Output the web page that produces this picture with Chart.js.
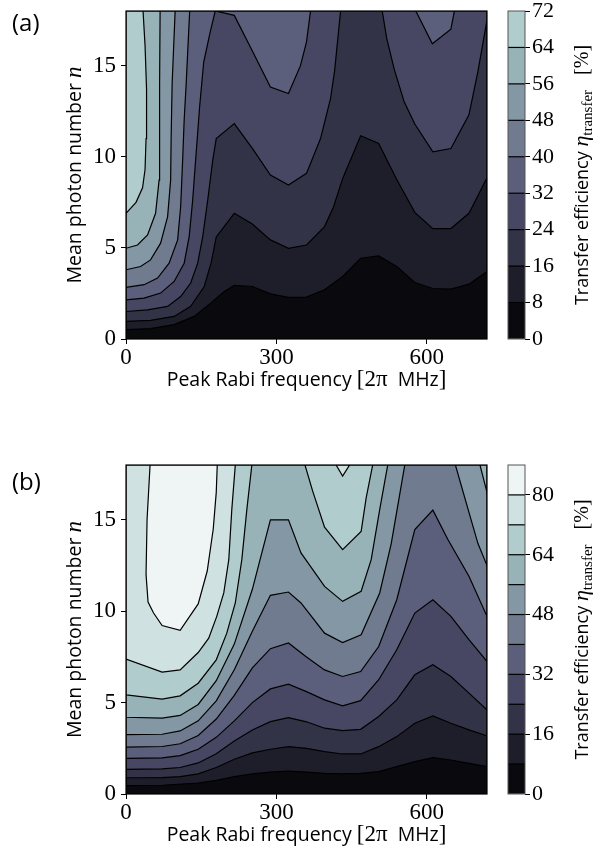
<!DOCTYPE html>
<html>
<head>
<meta charset="utf-8">
<script src="https://cdn.jsdelivr.net/npm/chart.js@4.4.0/dist/chart.umd.min.js"></script>
<style>
  html, body { margin: 0; padding: 0; background: #fff; }
  #page { position: relative; width: 607px; height: 856px; overflow: hidden; }
  #page canvas { position: absolute; }
</style>
</head>
<body>
<div id="page">
  <canvas id="mainA" width="500" height="428" style="left:0;top:0"></canvas>
  <canvas id="barA" width="107" height="428" style="left:500px;top:0"></canvas>
  <canvas id="mainB" width="500" height="428" style="left:0;top:428px"></canvas>
  <canvas id="barB" width="107" height="428" style="left:500px;top:428px"></canvas>
</div>
<script>
// --- axis ranges and ticks ---
const xMax = 720;
const yMax = 18;
const xTicks = [0, 300, 600];
const yTicks = [0, 5, 10, 15];
const levelsA = [0, 8, 16, 24, 32, 40, 48, 56, 64, 72];
const levelsB = [0, 8, 16, 24, 32, 40, 48, 56, 64, 72, 80, 88];
const cbTicksA = [0, 8, 16, 24, 32, 40, 48, 56, 64, 72];
const cbTicksB = [0, 16, 32, 48, 64, 80];
const cmapMax = 88;   // both panels share the same colour norm

// --- (a) contour lines, [x, y] ---
const a08 = [[0,0.51],[49,0.57],[96,0.79],[136,1.24],[169,1.97],[196,2.61],[216,2.94],[252,2.88],[288,2.48],[324,2.28],[360,2.30],[396,2.70],[432,3.43],[468,4.43],[504,4.56],[540,3.98],[576,3.10],[612,2.77],[648,2.74],[684,3.01],[720,3.70]];
const a16 = [[0,0.97],[49,1.02],[96,1.24],[129,1.79],[156,2.88],[170,4.2],[180,5.6],[216,6.90],[252,6.31],[288,5.44],[324,4.98],[360,5.16],[396,6.17],[414,7.26],[432,8.8],[468,11.15],[504,10.73],[540,8.75],[576,6.95],[612,6.06],[648,6.06],[684,6.90],[720,8.85]];
const a24 = [[0,1.51],[43,1.60],[83,1.79],[109,2.33],[129,3.07],[143,4.16],[153,5.62],[163,7.63],[173,9.82],[180,11.0],[216,11.82],[252,10.46],[288,9.0],[324,8.45],[360,9.09],[388,11.0],[408,13.2],[416,14.7],[428,18]];
const a24r = [[511,18],[520,16.5],[535,14.8],[555,13.0],[576,11.8],[612,10.27],[648,10.45],[684,12.3],[702,14.7],[720,17.5]];
const a32 = [[0,2.15],[36,2.24],[69,2.52],[96,3.16],[116,4.16],[126,5.62],[133,7.63],[138,9.5],[147,12.8],[155,15.2],[168,16.85],[178,18],[216,17.76],[252,15.8],[288,13.83],[324,13.47],[348,15.0],[360,16.3],[368,18]];
const a32r = [[578,18],[611,16.2],[648,17.0],[655,18]];
const a40 = [[0,2.83],[36,2.98],[63,3.34],[86,4.16],[103,5.44],[109,7.26],[113,9.82],[116,12],[120,14],[127,18]];
const a48 = [[0,3.80],[29,3.98],[49,4.34],[69,5.26],[83,6.72],[89,8.72],[90,11],[92,14],[98,18]];
const a56 = [[0,4.98],[23,5.16],[43,5.71],[59,6.90],[66,8.72],[67,11],[67,14],[68,18]];
const a64 = [[0,6.90],[20,7.5],[33,8.3],[38,9.3],[40,11],[41,13.7],[38,16.1],[34,18]];

// --- (b) contour lines ---
const b08 = [[0,0.46],[72,0.48],[144,0.6],[180,0.75],[216,0.95],[252,1.1],[288,1.2],[324,1.25],[360,1.2],[396,1.13],[432,1.10],[468,1.13],[504,1.22],[540,1.50],[576,1.77],[612,1.99],[648,1.86],[684,1.68],[720,1.50]];
const b16 = [[0,0.89],[72,0.90],[108,0.95],[144,1.1],[180,1.45],[216,1.9],[252,2.25],[288,2.45],[324,2.59],[360,2.5],[396,2.32],[432,2.19],[468,2.19],[504,2.59],[540,3.14],[576,3.87],[612,4.27],[648,3.87],[684,3.51],[720,3.18]];
const b24 = [[0,1.35],[72,1.37],[108,1.45],[144,1.7],[180,2.2],[216,2.9],[252,3.5],[288,3.96],[324,4.18],[360,3.95],[396,3.60],[432,3.47],[468,3.54],[504,4.24],[540,5.15],[576,6.52],[612,7.07],[648,6.43],[684,5.52],[720,4.60]];
const b32 = [[0,1.95],[72,1.98],[108,2.1],[144,2.45],[180,3.1],[216,4.0],[252,5.0],[288,5.75],[324,6.01],[360,5.6],[396,5.15],[432,4.82],[468,5.11],[504,6.25],[540,7.89],[576,9.90],[612,10.63],[648,9.72],[684,8.44],[720,7.25]];
const b40 = [[0,2.57],[72,2.6],[108,2.75],[144,3.2],[180,4.1],[216,5.4],[252,6.9],[288,7.95],[324,8.26],[360,7.5],[396,6.79],[432,6.43],[468,6.70],[504,8.07],[540,10.63],[576,14.47],[612,15.53],[642,13.92],[684,11.91],[720,9.72]];
const b48 = [[0,3.25],[72,3.27],[108,3.45],[144,4.0],[180,5.1],[216,6.8],[252,8.9],[288,10.87],[324,11.05],[349,10.45],[396,8.80],[432,8.29],[469,8.71],[506,11.0],[529,13.7],[556,18]];
const b48r = [[657,18],[682,15.6],[702,13.7],[720,12.5]];
const b56 = [[0,4.20],[72,4.15],[108,4.3],[144,4.9],[180,6.2],[216,8.2],[252,11.2],[288,15.0],[324,15.0],[349,13.19],[396,11.36],[432,10.54],[469,11.09],[489,12.82],[506,15.56],[522,18]];
const b56r = [[706,18],[720,16.5]];
const b64 = [[0,5.42],[72,5.19],[108,5.37],[144,6.06],[180,7.34],[201,8.8],[218,10.45],[231,12.82],[241,15.56],[251,18]];
const b64v = [[357,18],[372,16.6],[396,14.6],[432,13.37],[469,14.37],[479,16.2],[492,18]];
const b72 = [[0,7.38],[72,6.67],[108,6.79],[144,7.74],[165,8.53],[181,9.72],[195,11.0],[205,12.82],[211,15.56],[218,18]];
const b72v = [[419,18],[432,17.39],[446,18]];
const b80 = [[48,18],[42,15],[40,12],[44,10.5],[55,9.9],[72,9.22],[108,8.95],[144,10.4],[162,12.2],[174,14.5],[180,16.5],[182,18]];

const regionsA = [
  [8, [a08]], [16, [a16]], [24, [a24, a24r]], [32, [a32, a32r]],
  [40, [a40]], [48, [a48]], [56, [a56]], [64, [a64]]
];
const regionsB = [
  [8, [b08]], [16, [b16]], [24, [b24]], [32, [b32]], [40, [b40]],
  [48, [b48, b48r]], [56, [b56, b56r]], [64, [b64, b64v]], [72, [b72, b72v]], [80, [b80]]
];

// --- colours: matplotlib "bone" ---
function bone(v) {
  v = Math.max(0, Math.min(1, v));
  const r = v < 0.746032 ? v * 0.652778 / 0.746032 : 0.652778 + (v - 0.746032) * 0.347222 / 0.253968;
  let g;
  if (v < 0.365079) g = v * 0.319444 / 0.365079;
  else if (v < 0.746032) g = 0.319444 + (v - 0.365079) * 0.458334 / 0.380953;
  else g = 0.777778 + (v - 0.746032) * 0.222222 / 0.253968;
  const b = v < 0.365079 ? v * 0.444444 / 0.365079 : 0.444444 + (v - 0.365079) * 0.555556 / 0.634921;
  return `rgb(${Math.round(r * 255)},${Math.round(g * 255)},${Math.round(b * 255)})`;
}
const bandColor = lo => bone((lo + 4) / cmapMax);

// close a contour line into the region above it, walking the frame counter-clockwise
function perim(p) {
  const [x, y] = p;
  if (y <= 0) return x;
  if (x >= xMax) return xMax + y;
  if (y >= yMax) return xMax + yMax + (xMax - x);
  return 2 * xMax + yMax + (yMax - y);
}
function closeRegion(line) {
  const P = 2 * (xMax + yMax);
  const tEnd = perim(line[line.length - 1]);
  const span = ((perim(line[0]) - tEnd) % P + P) % P;
  const corners = [[0, 0], [xMax, 0], [xMax, yMax], [0, yMax]]
    .map(c => ({ c, d: ((perim(c) - tEnd) % P + P) % P }))
    .filter(o => o.d > 0 && o.d < span)
    .sort((p, q) => p.d - q.d)
    .map(o => o.c);
  return [...line, ...corners, line[0]];
}

const SANS = '"Open Sans", "DejaVu Sans", sans-serif';
const SERIF = '"Liberation Serif", "DejaVu Serif", serif';
const tickFont = { family: SERIF, size: 23 };

function drawParts(ctx, parts, cx, cy, angle) {
  ctx.save();
  ctx.translate(cx, cy);
  ctx.rotate(angle);
  ctx.fillStyle = '#000';
  ctx.textBaseline = 'alphabetic';
  ctx.textAlign = 'left';
  let total = 0;
  parts.forEach(p => { ctx.font = p.font; p.w = ctx.measureText(p.text).width; total += p.w; });
  let x = -total / 2;
  parts.forEach(p => { ctx.font = p.font; ctx.fillText(p.text, x, p.dy || 0); x += p.w; });
  ctx.restore();
}

const xTitle = [
  { text: 'Peak Rabi frequency ', font: '19.5px ' + SANS },
  { text: '[2π', font: '23px ' + SERIF },
  { text: '  MHz', font: '19.5px ' + SANS },
  { text: ']', font: '23px ' + SERIF }
];
const yTitle = [
  { text: 'Mean photon number ', font: '19.5px ' + SANS },
  { text: 'n', font: 'italic 23px ' + SERIF }
];
const cbTitle = [
  { text: 'Transfer efficiency ', font: '18px ' + SANS },
  { text: 'η', font: 'italic 22px ' + SERIF },
  { text: 'transfer', font: '15px ' + SERIF, dy: 4 },
  { text: '   [%]', font: '20px ' + SERIF }
];

const mainDecor = {
  id: 'mainDecor',
  beforeDatasetsDraw(chart) {
    const { ctx, chartArea: a } = chart;
    ctx.save();
    ctx.fillStyle = bandColor(0);
    ctx.fillRect(a.left, a.top, a.right - a.left, a.bottom - a.top);
    ctx.restore();
  },
  afterDraw(chart, args, opts) {
    const { ctx, chartArea: a } = chart;
    ctx.save();
    ctx.strokeStyle = '#000';
    ctx.lineWidth = 1.2;
    ctx.strokeRect(a.left, a.top, a.right - a.left, a.bottom - a.top);
    ctx.restore();
    drawParts(ctx, xTitle, (a.left + a.right) / 2, a.bottom + 47, 0);
    drawParts(ctx, yTitle, a.left - 45, (a.top + a.bottom) / 2, -Math.PI / 2);
    ctx.save();
    ctx.fillStyle = '#000';
    ctx.font = '24px ' + SANS;
    ctx.textBaseline = 'alphabetic';
    ctx.fillText(opts.label, 12, opts.labelY);
    ctx.restore();
  }
};

function makeMain(id, regions, o) {
  const datasets = [];
  regions.forEach(([level, lines]) => lines.forEach(line => datasets.push({
    data: closeRegion(line).map(([x, y]) => ({ x, y })),
    showLine: true,
    fill: 'shape',
    backgroundColor: bandColor(level),
    borderColor: '#000',
    borderWidth: 1.2,
    pointRadius: 0,
    tension: 0,
    order: -level
  })));
  return new Chart(document.getElementById(id), {
    type: 'scatter',
    data: { datasets },
    options: {
      responsive: false,
      animation: false,
      events: [],
      layout: { padding: { left: 0, top: o.top, right: 13, bottom: 0 } },
      plugins: {
        legend: { display: false },
        tooltip: { enabled: false },
        mainDecor: { label: o.label, labelY: o.labelY }
      },
      scales: {
        x: {
          type: 'linear', min: 0, max: xMax,
          afterBuildTicks: s => { s.ticks = xTicks.map(v => ({ value: v })); },
          afterFit: s => { s.height = o.xAxisH; s.paddingLeft = 0; s.paddingRight = 0; },
          grid: { drawOnChartArea: false, tickLength: 5, color: '#000' },
          border: { display: false },
          ticks: { font: tickFont, color: '#000', padding: 0, maxRotation: 0 }
        },
        y: {
          type: 'linear', min: 0, max: yMax,
          afterBuildTicks: s => { s.ticks = yTicks.map(v => ({ value: v })); },
          afterFit: s => { s.width = 126; s.paddingTop = 0; s.paddingBottom = 0; },
          grid: { drawOnChartArea: false, tickLength: 5, color: '#000' },
          border: { display: false },
          ticks: { font: tickFont, color: '#000', padding: 5 }
        }
      }
    },
    plugins: [mainDecor]
  });
}

const barDecor = {
  id: 'barDecor',
  afterDatasetsDraw(chart, args, opts) {
    const { ctx, chartArea: a } = chart;
    const y = chart.scales.y;
    ctx.save();
    ctx.strokeStyle = '#000';
    ctx.lineWidth = 1.2;
    opts.levels.slice(1, -1).forEach(v => {
      const py = y.getPixelForValue(v);
      ctx.beginPath();
      ctx.moveTo(a.left, py);
      ctx.lineTo(a.right, py);
      ctx.stroke();
    });
    ctx.strokeStyle = '#555';
    ctx.lineWidth = 1;
    ctx.strokeRect(a.left, a.top, a.right - a.left, a.bottom - a.top);
    ctx.restore();
    drawParts(ctx, cbTitle, a.right + 63, (a.top + a.bottom) / 2, -Math.PI / 2);
  }
};

function makeBar(id, levels, ticks, o) {
  const datasets = levels.slice(0, -1).map((lo, i) => ({
    data: [[lo, levels[i + 1]]],
    backgroundColor: bandColor(lo),
    borderWidth: 0,
    barPercentage: 1,
    categoryPercentage: 1,
    grouped: false
  }));
  return new Chart(document.getElementById(id), {
    type: 'bar',
    data: { labels: [''], datasets },
    options: {
      responsive: false,
      animation: false,
      events: [],
      layout: { padding: { left: 8, top: o.top, right: 0, bottom: o.bottom } },
      plugins: { legend: { display: false }, tooltip: { enabled: false }, barDecor: { levels } },
      scales: {
        x: { display: false },
        y: {
          position: 'right', min: 0, max: levels[levels.length - 1],
          afterBuildTicks: s => { s.ticks = ticks.map(v => ({ value: v })); },
          afterFit: s => { s.width = 82; s.paddingTop = 0; s.paddingBottom = 0; },
          grid: { drawOnChartArea: false, tickLength: 5, color: '#000' },
          border: { display: false },
          ticks: { font: { family: SERIF, size: 22 }, color: '#000', padding: 2 }
        }
      }
    },
    plugins: [barDecor]
  });
}

makeMain('mainA', regionsA, { top: 11, xAxisH: 89, label: '(a)', labelY: 31 });
makeBar('barA', levelsA, cbTicksA, { top: 11, bottom: 89 });
makeMain('mainB', regionsB, { top: 37, xAxisH: 62, label: '(b)', labelY: 62 });
makeBar('barB', levelsB, cbTicksB, { top: 37, bottom: 62 });
</script>
</body>
</html>
